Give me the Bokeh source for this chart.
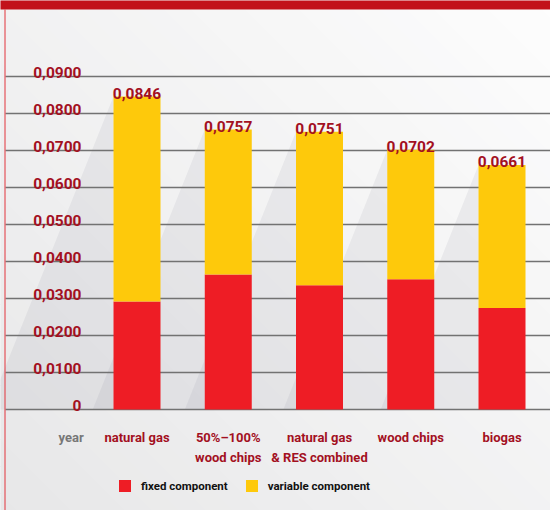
from bokeh.plotting import figure
from bokeh.models import Range1d, ColumnDataSource, Legend, LegendItem
from bokeh.core.properties import value
from bokeh.embed import file_html
from bokeh.resources import INLINE

# ---------------- data ----------------
categories = ["natural gas", "50%–100%\nwood chips", "natural gas\n& RES combined", "wood chips", "biogas"]
totals = [0.0846, 0.0757, 0.0751, 0.0702, 0.0661]
fixed = [0.0292, 0.0365, 0.0336, 0.0352, 0.0274]
variable = [round(t - f, 4) for t, f in zip(totals, fixed)]
total_labels = ["0,0846", "0,0757", "0,0751", "0,0702", "0,0661"]
y_ticks = [0, 0.01, 0.02, 0.03, 0.04, 0.05, 0.06, 0.07, 0.08, 0.09]
y_tick_labels = ["0", "0,0100", "0,0200", "0,0300", "0,0400", "0,0500",
                 "0,0600", "0,0700", "0,0800", "0,0900"]
series_names = ["fixed component", "variable component"]
x_title = "year"

# ---------------- style / layout ----------------
RED = "#ee1d25"
YELLOW = "#fec90b"
DARKRED = "#a3101f"
FONT = "Roboto"

W, H = 550, 510
PX_PER_X = 91.25
PX_PER_Y = 3700.0
X0_PX = 136.5
Y0_PX = 409.0
x_start = -X0_PX / PX_PER_X
x_end = x_start + W / PX_PER_X
y_end = Y0_PX / PX_PER_Y
y_start = y_end - H / PX_PER_Y


def px2x(px):
    return x_start + px / PX_PER_X


def py2y(py):
    return y_end - py / PX_PER_Y


BAR_W = 47 / PX_PER_X

p = figure(width=W, height=H, x_range=Range1d(x_start, x_end), y_range=Range1d(y_start, y_end),
           x_axis_type=None, y_axis_type=None, toolbar_location=None, output_backend="svg",
           min_border=0, outline_line_color=None)
p.grid.visible = False
p.background_fill_color = "#efefef"
p.border_fill_color = "#efefef"

# background diagonal gradient
N = 40
c_lo, c_hi = -520.0, 560.0
lo_col = (0xe7, 0xe7, 0xe8)
hi_col = (0xfd, 0xfd, 0xfd)
gxs, gys, gcols = [], [], []
for k in range(N):
    c0 = c_lo + (c_hi - c_lo) * k / N
    c1 = c_lo + (c_hi - c_lo) * (k + 1) / N
    t = (k + 0.5) / N
    col = "#%02x%02x%02x" % tuple(int(round(a + (b - a) * t)) for a, b in zip(lo_col, hi_col))
    gxs.append([px2x(c0 - 10), px2x(c1 - 10), px2x(c1 + 520), px2x(c0 + 520)])
    gys.append([py2y(-10), py2y(-10), py2y(520), py2y(520)])
    gcols.append(col)
p.patches(xs=gxs, ys=gys, fill_color=gcols, line_color=gcols, line_width=1)

xs = list(range(len(categories)))

# shadows cast to the left of each bar
sxs, sys_ = [], []
for i, tot in enumerate(totals):
    left = xs[i] - BAR_W / 2
    dx = 0.4 * tot * PX_PER_Y / PX_PER_X
    sxs.append([left, left, left - dx])
    sys_.append([tot, 0, 0])
p.patches(xs=sxs, ys=sys_, fill_color="#6a7382", fill_alpha=0.09, line_color=None)

# grid lines
p.segment(x0=[px2x(5)] * len(y_ticks), x1=[px2x(551)] * len(y_ticks), y0=y_ticks, y1=y_ticks,
          line_color="#727272", line_width=1.7)

# bars
src = ColumnDataSource(dict(x=xs, fixed=fixed, variable=variable))
rs = p.vbar_stack(["fixed", "variable"], x="x", width=BAR_W, color=[RED, YELLOW],
                  line_color=None, source=src)

# total labels
p.text(x=xs, y=totals, text=total_labels, text_align="center", text_baseline="alphabetic",
       y_offset=-3, text_font=value(FONT), text_font_size="15.5px", text_font_style="bold",
       text_color=DARKRED)

# y tick labels
p.text(x=[px2x(81)] * len(y_ticks), y=y_ticks, text=y_tick_labels, text_align="right",
       text_baseline="alphabetic", y_offset=-4, text_font=value(FONT), text_font_size="15.5px",
       text_font_style="bold", text_color=DARKRED)

# category labels (two lines)
line1 = [c.split("\n")[0] for c in categories]
line2 = [c.split("\n")[1] if "\n" in c else "" for c in categories]
p.text(x=xs, y=[py2y(437)] * len(xs), text=line1, text_align="center", text_baseline="alphabetic",
       text_font=value(FONT), text_font_size="13px", text_font_style="bold", text_color=DARKRED)
p.text(x=xs, y=[py2y(457)] * len(xs), text=line2, text_align="center", text_baseline="alphabetic",
       text_font=value(FONT), text_font_size="13px", text_font_style="bold", text_color=DARKRED)
p.text(x=[px2x(70.7)], y=[py2y(437)], text=[x_title], text_align="center", text_baseline="alphabetic",
       text_font=value(FONT), text_font_size="13px", text_font_style="bold", text_color="#777777")

# top red band and left red line
p.quad(left=[px2x(-5)], right=[px2x(560)], bottom=[py2y(9)], top=[py2y(-5)],
       fill_color="#c2111a", line_color=None)
p.segment(x0=[px2x(4.5)], x1=[px2x(4.5)], y0=[py2y(9)], y1=[py2y(515)],
          line_color="#e2343d", line_width=1)

legend = Legend(items=[LegendItem(label=series_names[0], renderers=[rs[0]]),
                       LegendItem(label=series_names[1], renderers=[rs[1]])],
                orientation="horizontal", location=(117, 17), glyph_width=15, glyph_height=15,
                label_height=15, label_standoff=9, spacing=16, padding=0, margin=0,
                background_fill_alpha=0, border_line_color=None,
                label_text_font=FONT, label_text_font_size="11.5px",
                label_text_font_style="bold", label_text_color="#111111",
                label_text_baseline="middle")
p.add_layout(legend)

open("out.html", "w").write(file_html(p, INLINE))
